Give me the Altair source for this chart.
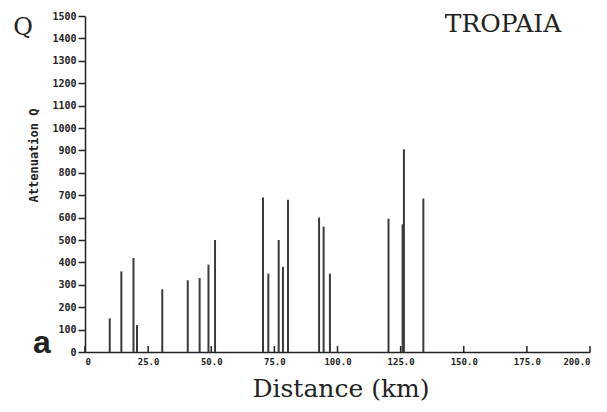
import altair as alt
import pandas as pd

# Data
distance_km = [9.8, 14.4, 19.2, 20.6, 30.6, 40.7, 45.4, 48.9, 51.5, 70.5, 72.6,
               76.7, 78.4, 80.4, 92.7, 94.5, 97.0, 120.2, 125.8, 126.3, 134.0]
attenuation_q = [150, 360, 420, 120, 280, 320, 330, 390, 500, 690, 350,
                 500, 380, 680, 600, 560, 350, 595, 570, 905, 685]
x_ticks = [0, 25, 50, 75, 100, 125, 150, 175, 200]
y_ticks = [0, 100, 200, 300, 400, 500, 600, 700, 800, 900, 1000, 1100, 1200, 1300, 1400, 1500]

df = pd.DataFrame({"km": distance_km, "Q": attenuation_q})
tick_df = pd.DataFrame({"t": x_ticks})

W, H = 505, 336
INK = "#222222"

xscale = alt.Scale(domain=[0, 200], nice=False, zero=True)
yscale = alt.Scale(domain=[0, 1500], nice=False, zero=True)

bars = alt.Chart(df).mark_rule(color="#3a3a3a", strokeWidth=2).encode(
    x=alt.X("km:Q", scale=xscale,
            axis=alt.Axis(values=x_ticks, title=None, ticks=False, grid=False,
                          domainColor=INK, domainWidth=1.5,
                          labelFont="DejaVu Sans Mono", labelFontWeight="bold",
                          labelFontSize=9, labelColor=INK, labelPadding=5,
                          labelExpr="datum.value == 0 ? '0' : format(datum.value, '.1f')")),
    y=alt.Y("Q:Q", scale=yscale,
            axis=alt.Axis(values=y_ticks, title="Attenuation Q", grid=False,
                          format="d",
                          domainColor=INK, domainWidth=1.5,
                          tickColor=INK, tickSize=7, tickWidth=1.5,
                          labelFont="DejaVu Sans Mono", labelFontWeight="bold",
                          labelFontSize=10, labelColor=INK, labelPadding=2,
                          titleFont="DejaVu Sans Mono", titleFontWeight="bold",
                          titleFontSize=12, titleColor=INK, titleAngle=270,
                          titleX=-52, titleY=139, titleAlign="center",
                          titleBaseline="middle")),
    y2=alt.datum(0),
)

xticks = alt.Chart(tick_df).mark_rule(color=INK, strokeWidth=1.5).encode(
    x=alt.X("t:Q", scale=xscale),
    y=alt.value(H),
    y2=alt.value(H - 6),
)

def label(text, x, y, font, size, weight="normal", align="center"):
    return alt.Chart(pd.DataFrame({"s": [text]})).mark_text(
        font=font, fontSize=size, fontWeight=weight, color=INK,
        align=align, baseline="alphabetic",
    ).encode(x=alt.value(x), y=alt.value(y), text="s:N")

q_lbl = label("Q", -62, 19, "DejaVu Serif", 24)
tro_lbl = label("TROPAIA", 418, 16, "DejaVu Serif", 25)
a_lbl = label("a", -43, 337, "Liberation Sans", 32, weight="bold")
dist_lbl = label("Distance (km)", 256, 381, "DejaVu Serif", 25)

chart = alt.layer(bars, xticks, q_lbl, tro_lbl, a_lbl, dist_lbl).properties(
    width=W, height=H,
    autosize=alt.AutoSizeParams(type="none"),
    padding={"left": 77, "top": 8, "right": 8, "bottom": 52},
    background="white",
).configure_view(stroke=None)

chart.save("out.html", embed_options={"renderer": "svg", "actions": False})
